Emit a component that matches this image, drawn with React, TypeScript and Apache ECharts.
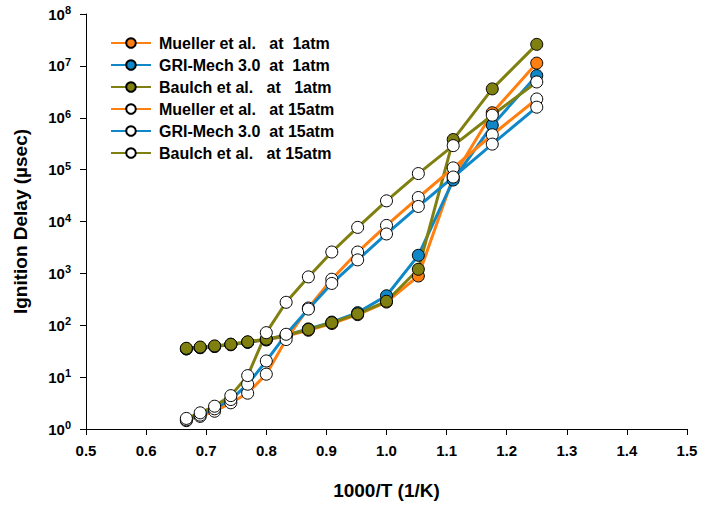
import React, { useEffect, useRef } from "react";
import * as echarts from "echarts";

const xValues = [0.667, 0.69, 0.714, 0.741, 0.769, 0.8, 0.833, 0.87, 0.909, 0.952, 1.0, 1.053, 1.111, 1.176, 1.25];

const mueller1 = [35, 37, 39, 42, 47, 52, 62, 80, 108, 160, 280, 890, 72000, 1250000, 11300000];
const gri1 = [35, 37, 39, 43, 47, 53, 64, 85, 115, 175, 370, 2230, 63000, 720000, 6500000];
const baulch1 = [36, 38, 40, 43, 48, 54, 64, 83, 112, 166, 290, 1200, 380000, 3600000, 26000000];
const mueller15 = [1.45, 1.75, 2.2, 3.2, 4.9, 11.4, 53, 215, 770, 2580, 8400, 29000, 108000, 470000, 2300000];
const gri15 = [1.5, 1.85, 2.45, 3.7, 7.3, 20.5, 67, 205, 640, 1820, 5750, 19500, 72000, 310000, 1600000];
const baulch15 = [1.6, 2.05, 2.75, 4.4, 10.7, 72, 277, 855, 2580, 7700, 25000, 84000, 290000, 1120000, 4900000];

const seriesNames = [
  "Mueller et al.\u00A0\u00A0\u00A0at\u00A0\u00A01atm",
  "GRI-Mech 3.0\u00A0\u00A0at\u00A0\u00A01atm",
  "Baulch et al.\u00A0\u00A0\u00A0at\u00A0\u00A0\u00A01atm",
  "Mueller et al.\u00A0\u00A0\u00A0at 15atm",
  "GRI-Mech 3.0\u00A0\u00A0at 15atm",
  "Baulch et al.\u00A0\u00A0\u00A0at 15atm",
];

const ORANGE = "#FF8010";
const BLUE = "#1088C8";
const OLIVE = "#808010";
const FONT = "Liberation Sans, Arial, sans-serif";

export default function App() {
  const ref = useRef<HTMLDivElement>(null);
  useEffect(() => {
    if (!ref.current) return;
    const chart = echarts.init(ref.current, undefined, { renderer: "svg" });
    const mk = (name: string, vals: number[], color: string, filled: boolean) => ({
      name,
      type: "line",
      data: xValues.map((x, i) => [x, vals[i]]),
      symbol: "circle",
      symbolSize: 12,
      lineStyle: { color, width: 3 },
      itemStyle: { color: filled ? color : "#ffffff", borderColor: "#000000", borderWidth: 1 },
      emphasis: { disabled: true },
    });
    chart.setOption({
      animation: false,
      backgroundColor: "#ffffff",
      textStyle: { fontFamily: FONT },
      grid: { left: 86, right: 15, top: 14, bottom: 68 },
      legend: {
        orient: "vertical",
        left: 105,
        top: 30,
        padding: 5,
        itemWidth: 40,
        itemHeight: 12,
        itemGap: 6,
        textStyle: { fontSize: 16, fontWeight: "bold", color: "#000", fontFamily: FONT, padding: [0, 0, 0, 3] },
        data: seriesNames,
      },
      xAxis: {
        type: "value",
        min: 0.5,
        max: 1.5,
        interval: 0.1,
        name: "1000/T (1/K)",
        nameLocation: "middle",
        nameGap: 52,
        nameTextStyle: { fontSize: 19, fontWeight: "bold", color: "#000", fontFamily: FONT },
        axisLine: { lineStyle: { color: "#000", width: 1 } },
        axisTick: { inside: false, length: 6, lineStyle: { color: "#000" } },
        axisLabel: {
          margin: 14,
          fontSize: 15,
          fontWeight: "bold",
          color: "#000",
          fontFamily: FONT,
          formatter: (v: number) => v.toFixed(1),
        },
        splitLine: { show: false },
      },
      yAxis: {
        type: "log",
        logBase: 10,
        min: 1,
        max: 1e8,
        name: "Ignition Delay (\u00B5sec)",
        nameLocation: "middle",
        nameGap: 56,
        nameTextStyle: { fontSize: 19, fontWeight: "bold", color: "#000", fontFamily: FONT },
        axisLine: { show: true, lineStyle: { color: "#000", width: 1 } },
        axisTick: { inside: false, length: 6, lineStyle: { color: "#000" } },
        axisLabel: {
          margin: 15,
          color: "#000",
          formatter: (v: number) => "{b|10}{s|" + Math.round(Math.log10(v)) + "}",
          rich: {
            b: { fontSize: 15, fontWeight: "bold", color: "#000", fontFamily: FONT },
            s: { fontSize: 11, fontWeight: "bold", color: "#000", verticalAlign: "top", padding: [0, 0, 8, 0], fontFamily: FONT },
          },
        },
        splitLine: { show: false },
      },
      series: [
        mk(seriesNames[0], mueller1, ORANGE, true),
        mk(seriesNames[1], gri1, BLUE, true),
        mk(seriesNames[2], baulch1, OLIVE, true),
        mk(seriesNames[3], mueller15, ORANGE, false),
        mk(seriesNames[4], gri15, BLUE, false),
        mk(seriesNames[5], baulch15, OLIVE, false),
      ],
    });
    return () => chart.dispose();
  }, []);
  return (
    <div
      ref={ref}
      style={{ position: "fixed", left: 0, top: 0, width: 702, height: 505, background: "#fff" }}
    />
  );
}
